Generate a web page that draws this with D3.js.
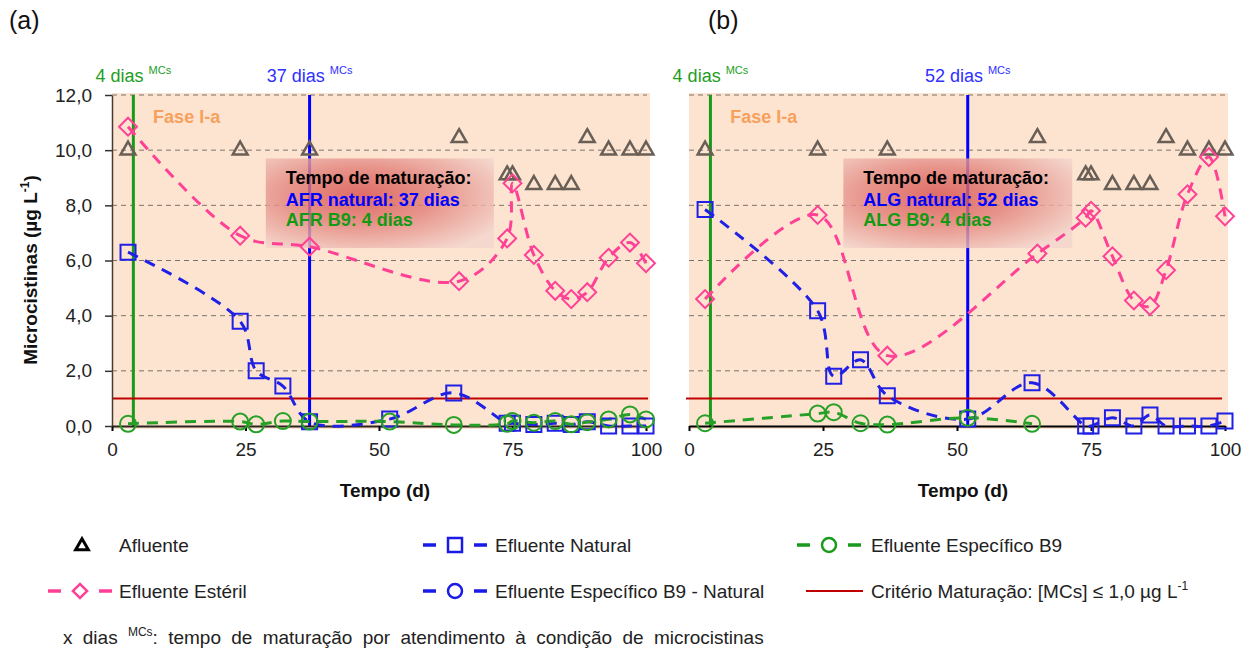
<!DOCTYPE html>
<html>
<head>
<meta charset="utf-8">
<style>
    body, html {
        margin: 0;
        padding: 0;
        background: #fff;
    }
    svg {
        display: block;
        font-family: "Liberation Sans", Arial, sans-serif;
    }
</style>
</head>
<body>
<svg width="1259" height="653"></svg>

<script src="https://d3js.org/d3.v7.min.js"></script>
<script>
    // days of sampling
    var diasAfl = [3, 24, 37, 65, 74, 75, 79, 83, 86, 89, 93, 97, 100];
    var diasEfl = [3, 24, 27, 32, 37, 52, 64, 74, 75, 79, 83, 86, 89, 93, 97, 100];
    var diasB9b = [3, 24, 27, 32, 37, 52, 64];

    // panel (a) - AFR
    var afluenteA = [10.0, 10.0, 10.0, 10.45, 9.1, 9.1, 8.75, 8.75, 8.75, 10.45, 10.0, 10.0, 10.0];
    var esterilA  = [10.85, 6.9, 6.5, 5.25, 6.8, 8.8, 6.2, 4.9, 4.6, 4.85, 6.1, 6.65, 5.9];
    var naturalA  = [6.3, 3.8, 2.0, 1.45, 0.15, 0.25, 1.2, 0.1, 0.1, 0.05, 0.1, 0.05, 0.15, 0.0, 0.0, 0.0];
    var b9A       = [0.08, 0.16, 0.06, 0.18, 0.16, 0.16, 0.04, 0.08, 0.18, 0.12, 0.18, 0.06, 0.14, 0.24, 0.42, 0.24];

    // panel (b) - ALG
    var afluenteB = [10.0, 10.0, 10.0, 10.45, 9.1, 9.1, 8.75, 8.75, 8.75, 10.45, 10.0, 10.0, 10.0];
    var esterilB  = [4.6, 7.65, 2.55, 6.25, 7.55, 7.8, 6.15, 4.55, 4.35, 5.65, 8.4, 9.75, 7.6];
    var naturalB  = [7.85, 4.18, 1.8, 2.4, 1.1, 0.25, 1.57, 0.0, 0.0, 0.3, 0.0, 0.4, 0.0, 0.0, 0.0, 0.18];
    var b9B       = [0.1, 0.45, 0.5, 0.1, 0.05, 0.3, 0.08];

    var yTicks = [0, 2, 4, 6, 8, 10, 12];
    var xTicks = [0, 25, 50, 75, 100];
    var criterio = 1.0;

    var panels = [
        { tag: "(a)", left: 112, right: 646, shadeR: 650, afl: afluenteA, est: esterilA, nat: naturalA, b9: b9A, diasB9: diasEfl,
          matNat: 37, matB9: 4, sigla: "AFR", yAxis: true },
        { tag: "(b)", left: 689, right: 1225, shadeR: 1228, afl: afluenteB, est: esterilB, nat: naturalB, b9: b9B, diasB9: diasB9b,
          matNat: 52, matB9: 4, sigla: "ALG", yAxis: false }
    ];

    var peach = "#fde4d0";
    var pink = "#ff4196";
    var blue = "#1f1fe6";
    var green = "#26a026";
    var afluColor = "#6a5f57";

    var svg = d3.select("svg");
    var y = d3.scaleLinear().domain([0, 12]).range([426, 95]);

    var defs = svg.append("defs");
    var grad = defs.append("radialGradient").attr("id", "boxGrad")
        .attr("cx", "42%").attr("cy", "42%").attr("r", "70%");
    grad.append("stop").attr("offset", "0%").attr("stop-color", "#d7514e");
    grad.append("stop").attr("offset", "45%").attr("stop-color", "#e2817a");
    grad.append("stop").attr("offset", "100%").attr("stop-color", "#f3d5cd");

    function sup(text, s, size) {
        text.append("tspan").attr("dy", -8).attr("font-size", size).text(s);
    }

    panels.forEach(function (p) {
        var x = d3.scaleLinear().domain([0, 100]).range([p.left, p.right]);
        var g = svg.append("g");

        // shaded background
        g.append("rect")
            .attr("x", p.left).attr("y", y(12) - 2)
            .attr("width", p.shadeR - p.left).attr("height", y(0) - y(12) + 5)
            .attr("fill", peach);

        // dashed grid
        g.selectAll(".grid").data(yTicks.slice(1)).enter().append("line")
            .attr("x1", p.left).attr("x2", p.right + 1)
            .attr("y1", function (d) { return y(d); }).attr("y2", function (d) { return y(d); })
            .attr("stroke", "#7d7269").attr("stroke-width", 1).attr("stroke-dasharray", "5,4");

        // maturation lines
        [[p.matB9, "#1a9a1a", "#1e9e1e"], [p.matNat, "#0000ff", "#3030ff"]].forEach(function (m) {
            g.append("line")
                .attr("x1", x(m[0])).attr("x2", x(m[0]))
                .attr("y1", y(12)).attr("y2", y(0))
                .attr("stroke", m[1]).attr("stroke-width", 3);
            var t = g.append("text")
                .attr("x", x(m[0])).attr("y", 82)
                .attr("text-anchor", "middle").attr("font-size", 18).attr("fill", m[2])
                .text(m[0] + " dias ");
            sup(t, "MCs", 11);
        });

        // annotation box
        g.append("rect")
            .attr("x", x(28.8)).attr("y", y(9.7))
            .attr("width", x(71.5) - x(28.8)).attr("height", y(6.45) - y(9.7))
            .attr("fill", "url(#boxGrad)").attr("opacity", 0.82);
        var tx = x(28.8) + 20;
        g.append("text").attr("x", tx).attr("y", 184).attr("font-size", 18).attr("font-weight", "bold")
            .attr("fill", "#000").text("Tempo de maturação:");
        g.append("text").attr("x", tx).attr("y", 206).attr("font-size", 18).attr("font-weight", "bold")
            .attr("fill", "#0000ff").text(p.sigla + " natural: " + p.matNat + " dias");
        g.append("text").attr("x", tx).attr("y", 226).attr("font-size", 18).attr("font-weight", "bold")
            .attr("fill", "#139a13").text(p.sigla + " B9: " + p.matB9 + " dias");

        // phase label
        g.append("text").attr("x", x(7.7)).attr("y", 123)
            .attr("font-size", 18).attr("font-weight", "bold").attr("fill", "#f7a05c")
            .text("Fase I-a");

        // maturation criterion
        g.append("line")
            .attr("x1", p.yAxis ? p.left : p.left - 3).attr("x2", p.yAxis ? p.right + 2 : p.right - 3)
            .attr("y1", y(criterio)).attr("y2", y(criterio))
            .attr("stroke", "#c00000").attr("stroke-width", 2);

        // axes
        var xa = g.append("g").attr("transform", "translate(0," + y(0) + ")")
            .call(d3.axisBottom(x).tickValues(xTicks).tickSizeInner(5).tickSizeOuter(0).tickPadding(12));
        xa.select(".domain").attr("stroke", p.yAxis ? "#2e241e" : "#000").attr("stroke-width", 2);
        xa.selectAll(".tick line").attr("stroke", "#000").attr("stroke-width", 2);
        xa.selectAll(".tick text").attr("font-size", 19).attr("fill", "#222")
            .attr("font-family", "Liberation Sans, Arial, sans-serif");

        if (p.yAxis) {
            var ya = g.append("g").attr("transform", "translate(" + p.left + ",0)")
                .call(d3.axisLeft(y).tickValues(yTicks).tickSizeInner(7).tickSizeOuter(0).tickPadding(13)
                    .tickFormat(function (d) { return d3.format(".1f")(d).replace(".", ","); }));
            ya.select(".domain").attr("stroke", "#4a3b30").attr("stroke-width", 1.5);
            ya.selectAll(".tick line").attr("stroke", "#333").attr("stroke-width", 1.5);
            ya.selectAll(".tick text").attr("font-size", 19).attr("fill", "#222")
                .attr("font-family", "Liberation Sans, Arial, sans-serif");
        }

        // smoothed dashed series
        var line = d3.line()
            .x(function (d) { return x(d[0]); })
            .y(function (d) { return y(d[1]); })
            .curve(d3.curveCatmullRom.alpha(0.5));

        var est = d3.zip(diasAfl, p.est);
        var nat = d3.zip(diasEfl, p.nat);
        var b9 = d3.zip(p.diasB9, p.b9);

        [[est, pink], [nat, blue], [b9, green]].forEach(function (s) {
            g.append("path").datum(s[0])
                .attr("d", line)
                .attr("fill", "none").attr("stroke", s[1])
                .attr("stroke-width", 3).attr("stroke-dasharray", "11,8");
        });

        // markers
        g.selectAll(".afl").data(d3.zip(diasAfl, p.afl)).enter().append("path")
            .attr("d", d3.symbol(d3.symbolTriangle, 95))
            .attr("transform", function (d) { return "translate(" + x(d[0]) + "," + y(d[1]) + ")"; })
            .attr("fill", "none").attr("stroke", afluColor).attr("stroke-width", 2.5);

        g.selectAll(".est").data(est).enter().append("path")
            .attr("d", d3.symbol(d3.symbolSquare, 160))
            .attr("transform", function (d) { return "translate(" + x(d[0]) + "," + y(d[1]) + ") rotate(45)"; })
            .attr("fill", "none").attr("stroke", pink).attr("stroke-width", 2);

        g.selectAll(".nat").data(nat).enter().append("path")
            .attr("d", d3.symbol(d3.symbolSquare, 225))
            .attr("transform", function (d) { return "translate(" + x(d[0]) + "," + y(d[1]) + ")"; })
            .attr("fill", "none").attr("stroke", blue).attr("stroke-width", 2);

        g.selectAll(".b9").data(b9).enter().append("circle")
            .attr("cx", function (d) { return x(d[0]); })
            .attr("cy", function (d) { return y(d[1]); })
            .attr("r", 8)
            .attr("fill", "none").attr("stroke", green).attr("stroke-width", 2);

        // titles
        svg.append("text").attr("y", 29)
            .attr("font-size", 25).attr("fill", "#111")
            .attr("x", p.yAxis ? 9 : 708)
            .text(p.tag);

        svg.append("text").attr("x", (p.left + p.right) / 2 + 6).attr("y", 497)
            .attr("text-anchor", "middle").attr("font-size", 19).attr("font-weight", "bold").attr("fill", "#111")
            .text("Tempo (d)");
    });

    // y title
    var yt = svg.append("text")
        .attr("transform", "translate(37,270) rotate(-90)")
        .attr("text-anchor", "middle").attr("font-size", 19).attr("font-weight", "bold").attr("fill", "#111")
        .text("Microcistinas  (µg L");
    sup(yt, "-1", 12);
    yt.append("tspan").attr("dy", 8).text(")");

    // legend
    var leg = svg.append("g").attr("font-size", 19).attr("fill", "#222");

    function legendEntry(cx, cy, color, shape, label, tx) {
        if (shape !== "tri") {
            leg.append("line").attr("x1", cx - 32).attr("x2", cx - 19).attr("y1", cy).attr("y2", cy)
                .attr("stroke", color).attr("stroke-width", 3.5);
            leg.append("line").attr("x1", cx + 19).attr("x2", cx + 32).attr("y1", cy).attr("y2", cy)
                .attr("stroke", color).attr("stroke-width", 3.5);
        }
        if (shape === "tri") {
            leg.append("path").attr("d", d3.symbol(d3.symbolTriangle, 70))
                .attr("transform", "translate(" + cx + "," + (cy + 1) + ")")
                .attr("fill", "none").attr("stroke", "#000").attr("stroke-width", 3);
        } else if (shape === "sq") {
            leg.append("rect").attr("x", cx - 7).attr("y", cy - 7).attr("width", 14).attr("height", 14)
                .attr("fill", "none").attr("stroke", color).attr("stroke-width", 2.5);
        } else if (shape === "dia") {
            leg.append("path").attr("d", d3.symbol(d3.symbolSquare, 100))
                .attr("transform", "translate(" + cx + "," + cy + ") rotate(45)")
                .attr("fill", "none").attr("stroke", color).attr("stroke-width", 2.5);
        } else if (shape === "circ") {
            leg.append("circle").attr("cx", cx).attr("cy", cy).attr("r", 7)
                .attr("fill", "none").attr("stroke", color).attr("stroke-width", 2.5);
        }
        return leg.append("text").attr("x", tx).attr("y", cy + 7).text(label);
    }

    legendEntry(82, 545, "#000", "tri", "Afluente", 119);
    legendEntry(455, 545, "#1a1ae6", "sq", "Efluente Natural", 495);
    legendEntry(829, 545, "#1a9a1a", "circ", "Efluente Específico B9", 871);
    legendEntry(80, 591, "#ff3f96", "dia", "Efluente Estéril", 119);
    legendEntry(455, 591, "#1a1ae6", "circ", "Efluente Específico B9 - Natural", 495);

    leg.append("line").attr("x1", 806).attr("x2", 863).attr("y1", 591).attr("y2", 591)
        .attr("stroke", "#c00000").attr("stroke-width", 2);
    var crit = leg.append("text").attr("x", 871).attr("y", 598).text("Critério Maturação: [MCs] ≤ 1,0 µg L");
    sup(crit, "-1", 12);

    var foot = leg.append("text").attr("x", 63).attr("y", 644).attr("word-spacing", 5).text("x dias ");
    sup(foot, "MCs", 12);
    foot.append("tspan").attr("dy", 8).text(": tempo de maturação por atendimento à condição de microcistinas");
</script>
</body>
</html>
